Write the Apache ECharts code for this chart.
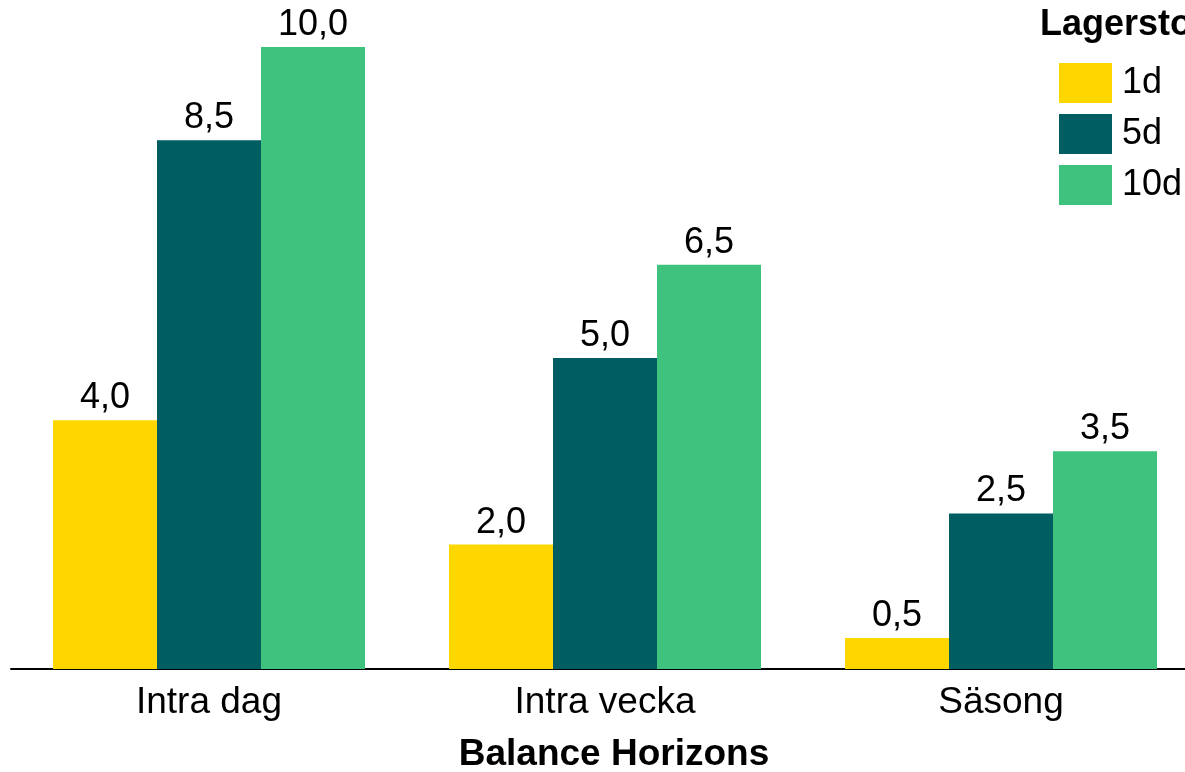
<!DOCTYPE html>
<html>
<head>
<meta charset="utf-8">
<script src="https://cdn.jsdelivr.net/npm/echarts@6/dist/echarts.min.js"></script>
<style>
html,body{margin:0;padding:0;background:#fff;}
#chart{width:1185px;height:772px;}
</style>
</head>
<body>
<div id="chart"></div>
<script>
const categories = ['Intra dag', 'Intra vecka', 'Säsong'];
const seriesNames = ['1d', '5d', '10d'];
const values1d = [4.0, 2.0, 0.5];
const values5d = [8.5, 5.0, 2.5];
const values10d = [10.0, 6.5, 3.5];
const colors = ['#FFD700', '#005E62', '#3EC27E'];
const legendTitle = 'Lagerstorlek';
const axisTitle = 'Balance Horizons';

const FONT = '"Liberation Sans", Arial, sans-serif';
const chart = echarts.init(document.getElementById('chart'), null, {renderer: 'canvas'});

const allValues = [values1d, values5d, values10d];
const series = seriesNames.map((name, i) => ({
  name: name,
  type: 'bar',
  data: allValues[i],
  barWidth: 104,
  barGap: '0%',
  itemStyle: {color: colors[i]},
  label: {
    show: true,
    position: 'top',
    distance: 4,
    color: '#000',
    fontSize: 36,
    fontFamily: FONT,
    formatter: p => p.value.toFixed(1).replace('.', ',')
  },
  emphasis: {disabled: true}
}));

chart.setOption({
  animation: false,
  backgroundColor: '#fff',
  grid: {left: 11, top: 47, right: -14, bottom: 103, containLabel: false, outerBoundsMode: 'none'},
  xAxis: {
    type: 'category',
    data: categories,
    axisLine: {show: true, lineStyle: {color: '#000', width: 2}},
    axisTick: {show: false},
    axisLabel: {fontSize: 37, color: '#000', fontFamily: FONT, margin: 15},
    splitLine: {show: false}
  },
  yAxis: {
    type: 'value',
    min: 0,
    max: 10,
    show: false
  },
  legend: {
    orient: 'vertical',
    left: 1059,
    top: 63,
    itemWidth: 53,
    itemHeight: 40,
    itemGap: 11,
    icon: 'rect',
    data: seriesNames,
    textStyle: {fontSize: 36, color: '#000', fontFamily: FONT, padding: [0, 0, 0, 5]},
    padding: 0
  },
  graphic: [
    {
      type: 'text',
      left: 1040,
      top: 7,
      style: {text: legendTitle, fontSize: 36, fontWeight: 'bold', fill: '#000', fontFamily: FONT}
    },
    {
      type: 'text',
      x: 614,
      y: 755,
      style: {text: axisTitle, fontSize: 37, fontWeight: 'bold', fill: '#000', fontFamily: FONT, align: 'center', verticalAlign: 'middle'}
    }
  ],
  series: series
});
</script>
</body>
</html>
